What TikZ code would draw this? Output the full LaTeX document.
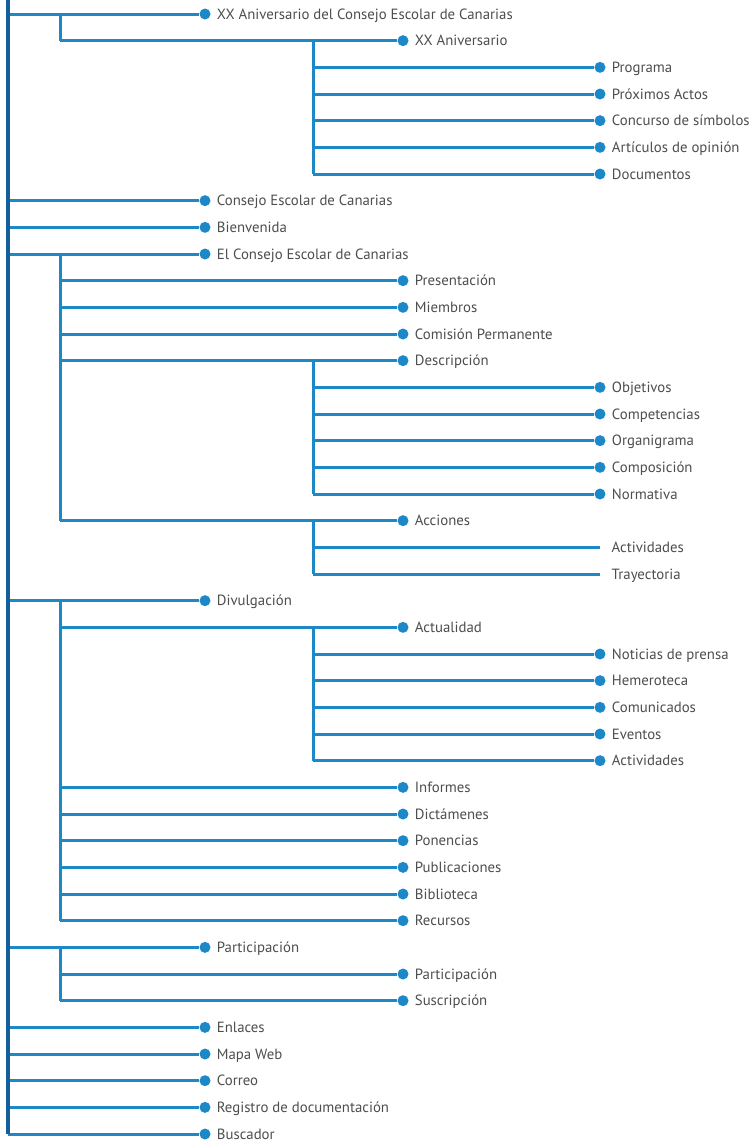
\documentclass[tikz,border=0pt]{standalone}
\usepackage{fontspec}
\setmainfont{PT Sans}
\definecolor{branch}{HTML}{1C88C7}
\definecolor{rootc}{HTML}{155E9A}
\definecolor{txt}{HTML}{4D4D4D}
\newcommand\rowy[1]{14+26.667*#1}
% #1 trunk x, #2 dot x, #3 row, #4 name, #5 text
\newcommand\itm[5]{%
  \coordinate (j#4) at (#1,{\rowy{#3}});
  \node[dot] (#4) at (#2,{\rowy{#3}}) {};
  \node[lbl] (#4t) at ([xshift=6pt,yshift=-5.3pt]#4.east) {#5};
  \draw[br] (j#4) -- (#4);}
\newcommand\itmnd[5]{%
  \coordinate (j#4) at (#1,{\rowy{#3}});
  \coordinate (#4) at (#2,{\rowy{#3}});
  \node[lbl] (#4t) at ([xshift=11.5pt,yshift=-5.3pt]#4) {#5};
  \draw[br] (j#4) -- (#4);}
% #1 name, #2 x, #3 from row, #4 to row
\newcommand\trunk[4]{%
  \coordinate (#1a) at (#2,{\rowy{#3}});
  \coordinate (#1b) at (#2,{\rowy{#4}});
  \draw[br] (#1a) -- (#1b);}
\begin{document}
\begin{tikzpicture}[x=1pt,y=-1pt,
  dot/.style={circle,fill=branch,inner sep=0pt,minimum size=11pt},
  lbl/.style={anchor=base west,inner sep=0pt,text=txt,font=\fontsize{14.8}{16}\selectfont},
  br/.style={draw=branch,line width=3pt}]
\useasboundingbox (0,0) rectangle (755,1144);
% trunks
\trunk{tA}{60}{0}{1}
\trunk{tB}{313}{1}{6}
\trunk{tC}{60}{9}{19}
\trunk{tD}{313}{13}{18}
\trunk{tE}{313}{19}{21}
\trunk{tF}{60}{22}{34}
\trunk{tG}{313}{23}{28}
\trunk{tH}{60}{35}{37}
% level 1
\itm{8}{205}{0}{r0}{XX Aniversario del Consejo Escolar de Canarias}
\itm{8}{205}{7}{r7}{Consejo Escolar de Canarias}
\itm{8}{205}{8}{r8}{Bienvenida}
\itm{8}{205}{9}{r9}{El Consejo Escolar de Canarias}
\itm{8}{205}{22}{r22}{Divulgación}
\itm{8}{205}{35}{r35}{Participación}
\itm{8}{205}{38}{r38}{Enlaces}
\itm{8}{205}{39}{r39}{Mapa Web}
\itm{8}{205}{40}{r40}{Correo}
\itm{8}{205}{41}{r41}{Registro de documentación}
\itm{8}{205}{42}{r42}{Buscador}
% level 2
\itm{60}{403}{1}{r1}{XX Aniversario}
\itm{60}{403}{10}{r10}{Presentación}
\itm{60}{403}{11}{r11}{Miembros}
\itm{60}{403}{12}{r12}{Comisión Permanente}
\itm{60}{403}{13}{r13}{Descripción}
\itm{60}{403}{19}{r19}{Acciones}
\itm{60}{403}{23}{r23}{Actualidad}
\itm{60}{403}{29}{r29}{Informes}
\itm{60}{403}{30}{r30}{Dictámenes}
\itm{60}{403}{31}{r31}{Ponencias}
\itm{60}{403}{32}{r32}{Publicaciones}
\itm{60}{403}{33}{r33}{Biblioteca}
\itm{60}{403}{34}{r34}{Recursos}
\itm{60}{403}{36}{r36}{Participación}
\itm{60}{403}{37}{r37}{Suscripción}
% level 3
\itm{313}{600}{2}{r2}{Programa}
\itm{313}{600}{3}{r3}{Próximos Actos}
\itm{313}{600}{4}{r4}{Concurso de símbolos}
\itm{313}{600}{5}{r5}{Artículos de opinión}
\itm{313}{600}{6}{r6}{Documentos}
\itm{313}{600}{14}{r14}{Objetivos}
\itm{313}{600}{15}{r15}{Competencias}
\itm{313}{600}{16}{r16}{Organigrama}
\itm{313}{600}{17}{r17}{Composición}
\itm{313}{600}{18}{r18}{Normativa}
\itmnd{313}{600}{20}{r20}{Actividades}
\itmnd{313}{600}{21}{r21}{Trayectoria}
\itm{313}{600}{24}{r24}{Noticias de prensa}
\itm{313}{600}{25}{r25}{Hemeroteca}
\itm{313}{600}{26}{r26}{Comunicados}
\itm{313}{600}{27}{r27}{Eventos}
\itm{313}{600}{28}{r28}{Actividades}
% root
\coordinate (root0) at (8,0);
\draw[draw=rootc,line width=3.2pt] (root0) -- (jr42);
\end{tikzpicture}
\end{document}
